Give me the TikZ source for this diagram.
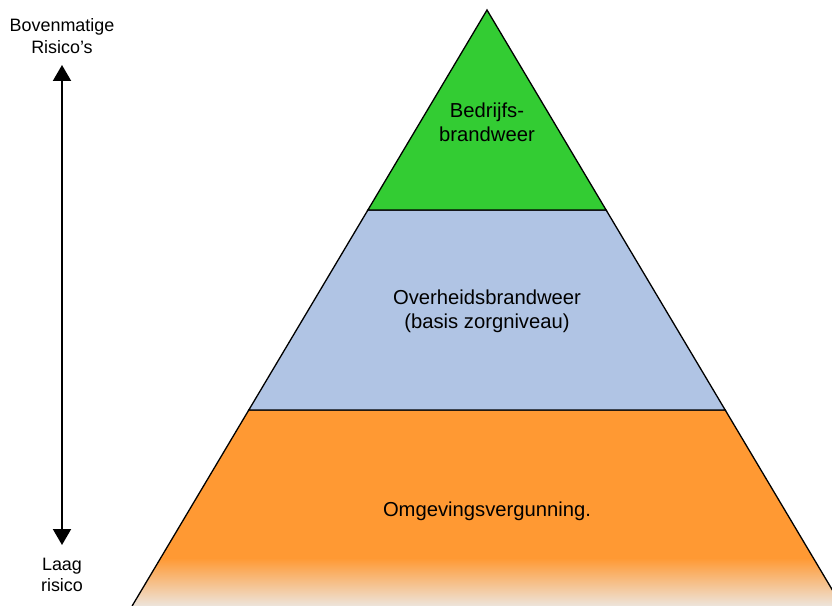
\documentclass[tikz,border=0pt]{standalone}
\usepackage{fontspec}
\setmainfont{Liberation Sans}
\usetikzlibrary{arrows.meta}
\definecolor{groen}{HTML}{33CC33}
\definecolor{blauw}{HTML}{B0C4E4}
\definecolor{oranje}{HTML}{FF9933}
\definecolor{vaag}{HTML}{EDE6DF}

\begin{document}
\begin{tikzpicture}[x=1bp, y=-1bp,
        rand/.style={draw=black, line width=1.3bp, line join=miter},
        tekst/.style={align=center, font=\fontsize{20.3}{24}\selectfont},
        zijtekst/.style={align=center, font=\fontsize{18}{21.5}\selectfont},
        pijl/.style={line width=2bp, {Triangle[width=18bp,length=16bp]}-{Triangle[width=18bp,length=16bp]}}]
    \useasboundingbox (0,0) rectangle (832,606);
    \clip (0,0) rectangle (832,606);

    % onderste laag met verloop
    \fill[oranje] (248.8,410) -- (132.1,606) -- (841.9,606) -- (725.2,410) -- cycle;
    \begin{scope}
        \clip (248.8,410) -- (132.1,606) -- (841.9,606) -- (725.2,410) -- cycle;
        \shade[top color=oranje, bottom color=vaag] (100,558) rectangle (860,607);
    \end{scope}
    \draw[rand] (132.1,606) -- (248.8,410) -- (725.2,410) -- (841.9,606);

    % middelste en bovenste laag
    \draw[rand, fill=blauw] (367.9,210) -- (248.8,410) -- (725.2,410) -- (606.1,210) -- cycle;
    \draw[rand, fill=groen] (487,10) -- (367.9,210) -- (606.1,210) -- cycle;

    \node[tekst] (bedrijf) at (487,122) {Bedrijfs-\\brandweer};
    \node[tekst] (overheid) at (487,311) {Overheidsbrandweer\\(basis zorgniveau)};
    \node[tekst] (omgeving) at (487,511) {Omgevingsvergunning.};

    % risico-as
    \node[zijtekst] (hoog) at (62,36) {Bovenmatige\\Risico's};
    \node[zijtekst] (laag) at (62,575) {Laag\\risico};
    \coordinate (boven) at (62,65);
    \coordinate (onder) at (62,545);
    \draw[pijl] (onder) -- (boven);
\end{tikzpicture}
\end{document}
